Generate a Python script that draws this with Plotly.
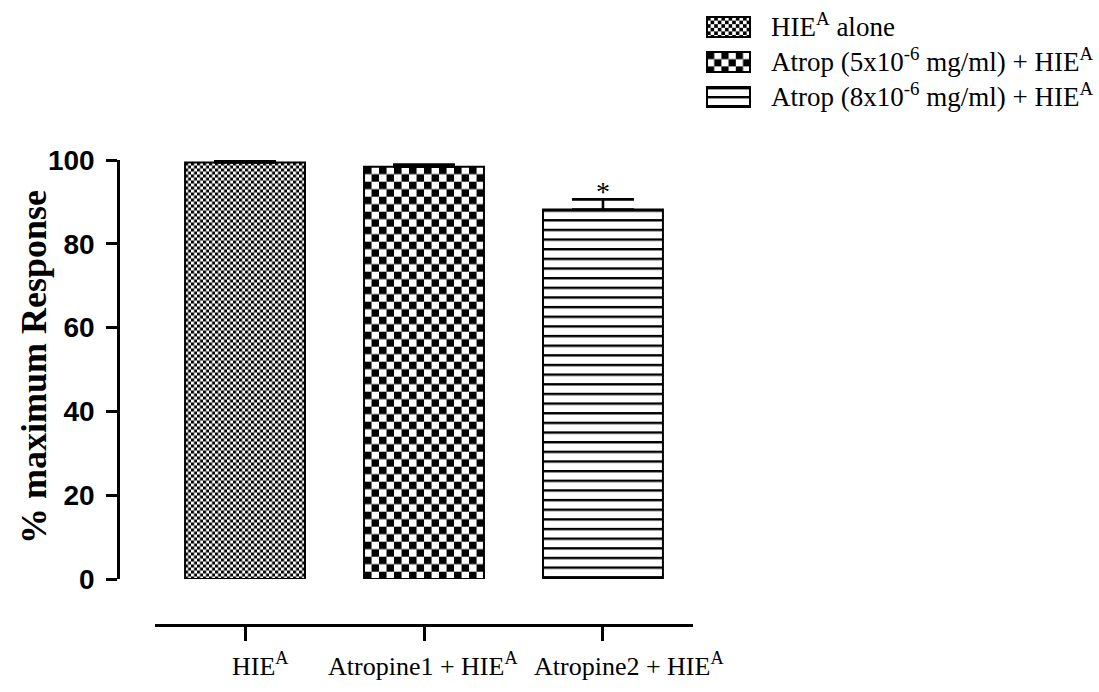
import base64
import plotly.graph_objects as go

# ---- data ----
categories = ["HIE<sup>A</sup>", "Atropine1 + HIE<sup>A</sup>", "Atropine2 + HIE<sup>A</sup>"]
values = [99.4, 98.4, 88.2]
errors = [0.5, 0.5, 2.4]
legend_labels = [
    "HIE<sup>A</sup> alone",
    "Atrop (5x10<sup>-6</sup> mg/ml) + HIE<sup>A</sup>",
    "Atrop (8x10<sup>-6</sup> mg/ml) + HIE<sup>A</sup>",
]
y_ticks = [0, 20, 40, 60, 80, 100]
significance = ["", "", "*"]
y_title = "% maximum Response"

# ---- layout constants ----
W, H = 1099, 692
X_DOM = [155 / W, 693 / W]
Y_DOM = [(H - 579) / H, (H - 160) / H]
X_RANGE = [-0.503, 2.503]
Y_RANGE = [0, 100]
BAR_W = 0.67
patterns = [("check", 3.0), ("check", 7.5), ("lines", 9.65)]
label_xshift = [15, -1, 26]

px_per_x = W * (X_DOM[1] - X_DOM[0]) / (X_RANGE[1] - X_RANGE[0])
px_per_y = H * (Y_DOM[1] - Y_DOM[0]) / (Y_RANGE[1] - Y_RANGE[0])


def texture_uri(kind, cell, w, h):
    if kind == "check":
        p = 2 * cell
        tile = (f'<rect width="{p}" height="{p}" fill="white"/>'
                f'<rect width="{cell}" height="{cell}" fill="black"/>'
                f'<rect x="{cell}" y="{cell}" width="{cell}" height="{cell}" fill="black"/>')
    else:
        p = cell
        tile = (f'<rect width="{p}" height="{p}" fill="white"/>'
                f'<rect width="{p}" height="2.4" fill="black"/>')
    svg = (f'<svg xmlns="http://www.w3.org/2000/svg" width="{w:.1f}" height="{h:.1f}" '
           f'viewBox="0 0 {w:.1f} {h:.1f}" preserveAspectRatio="none">'
           f'<defs><pattern id="p" width="{p}" height="{p}" patternUnits="userSpaceOnUse">{tile}</pattern></defs>'
           f'<rect width="{w:.1f}" height="{h:.1f}" fill="url(#p)"/></svg>')
    return "data:image/svg+xml;base64," + base64.b64encode(svg.encode()).decode()


fig = go.Figure()
fig.add_trace(go.Bar(
    x=categories, y=values, width=BAR_W,
    marker=dict(color="rgba(0,0,0,0)", line=dict(color="black", width=2)),
    error_y=dict(type="data", array=errors, arrayminus=[0] * len(errors), symmetric=False,
                 color="black", thickness=2.6, width=31),
    showlegend=False, hoverinfo="skip",
))

images = []
for i, (v, (kind, cell)) in enumerate(zip(values, patterns)):
    images.append(dict(
        source=texture_uri(kind, cell, BAR_W * px_per_x, v * px_per_y),
        xref="x", yref="y", x=i - BAR_W / 2, y=v, sizex=BAR_W, sizey=v,
        xanchor="left", yanchor="top", sizing="stretch", layer="below",
    ))

# manual legend
LEG_X, LEG_SW_W, LEG_SW_H = 707, 43, 20
leg_centers = [27, 62, 97]
leg_cells = [("check", 3.6), ("check", 7.2), ("lines", 9.0)]
shapes = []
annotations = []
for lab, cy, (kind, cell) in zip(legend_labels, leg_centers, leg_cells):
    top = cy - LEG_SW_H / 2
    images.append(dict(
        source=texture_uri(kind, cell, LEG_SW_W, LEG_SW_H),
        xref="paper", yref="paper", x=LEG_X / W, y=1 - top / H,
        sizex=LEG_SW_W / W, sizey=LEG_SW_H / H, xanchor="left", yanchor="top",
        sizing="stretch", layer="above",
    ))
    shapes.append(dict(type="rect", xref="paper", yref="paper",
                       x0=LEG_X / W, x1=(LEG_X + LEG_SW_W) / W,
                       y0=1 - top / H, y1=1 - (top + LEG_SW_H) / H,
                       line=dict(color="black", width=2)))
    annotations.append(dict(text=lab, xref="paper", yref="paper", x=769 / W, y=1 - (cy - 2) / H,
                            xanchor="left", yanchor="middle", showarrow=False,
                            font=dict(family="Liberation Serif", size=27, color="black")))

# significance marks
for i, (v, e, s) in enumerate(zip(values, errors, significance)):
    if s:
        annotations.append(dict(text=s, x=i, y=v + e, xref="x", yref="y", yanchor="bottom",
                                showarrow=False, yshift=-10,
                                font=dict(family="Liberation Serif", size=28, color="black")))

# category labels (placed under the ticks, as in the original)
for i, (c, dx) in enumerate(zip(categories, label_xshift)):
    annotations.append(dict(text=c, x=i, xref="x", y=(H - 664) / H, yref="paper",
                            xanchor="center", yanchor="middle", xshift=dx, showarrow=False,
                            font=dict(family="Liberation Serif", size=26, color="black")))

# y-axis title
annotations.append(dict(text=y_title, textangle=-90, xref="paper", x=34 / W,
                        yref="paper", y=(H - 367) / H, xanchor="center", yanchor="middle",
                        showarrow=False,
                        font=dict(family="Liberation Serif", size=36, color="black",
                                  weight="bold")))

fig.update_layout(
    width=W, height=H, margin=dict(l=0, r=0, t=0, b=0),
    paper_bgcolor="white", plot_bgcolor="white",
    images=images, shapes=shapes, annotations=annotations,
    xaxis=dict(domain=X_DOM, range=X_RANGE, anchor="free", position=(H - 625) / H,
               automargin=False, showticklabels=False,
               showline=True, linecolor="black", linewidth=2.5,
               ticks="outside", ticklen=14, tickwidth=2.5, tickcolor="black",
               showgrid=False, zeroline=False),
    yaxis=dict(domain=Y_DOM, range=Y_RANGE, anchor="free", position=118 / W,
               automargin=False,
               tickvals=y_ticks, showline=True, linecolor="black", linewidth=2.5,
               ticks="outside", ticklen=11, tickwidth=2.5, tickcolor="black",
               showgrid=False, zeroline=False, ticklabelstandoff=6,
               tickfont=dict(family="Liberation Sans", size=28, color="black", weight="bold")),
)

fig.write_html("out.html")
